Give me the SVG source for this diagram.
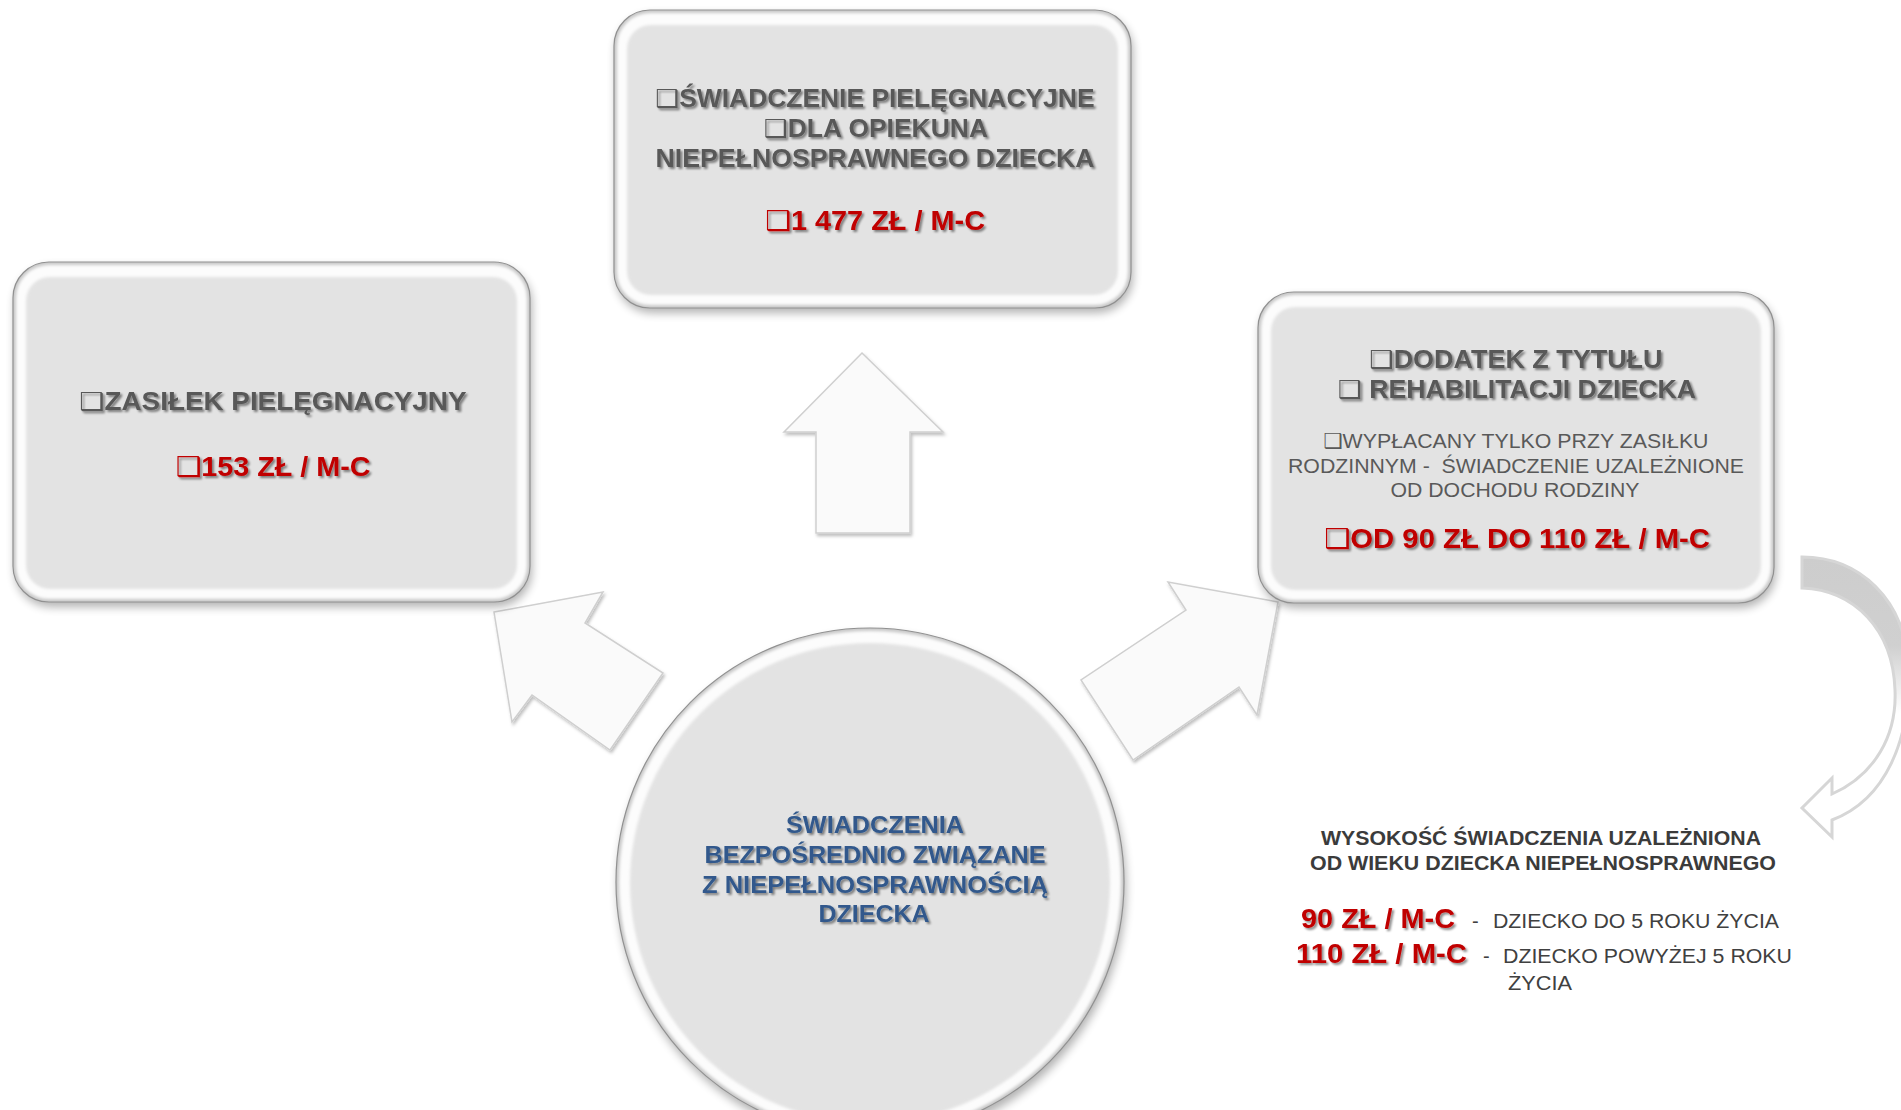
<svg xmlns="http://www.w3.org/2000/svg" width="1901" height="1110" viewBox="0 0 1901 1110">
<style>
  .t { font-family: "Liberation Sans", Arial, "DejaVu Sans", sans-serif; }
  .hb { font-weight: bold; font-size: 25px; fill: #595959; filter: url(#tsh); }
  .red { font-weight: bold; font-size: 27px; fill: #c00000; filter: url(#tsh); }
  .blue { font-weight: bold; font-size: 24px; fill: #31598c; filter: url(#tsh); }
  .reg { font-size: 21px; fill: #595959; }
  .note { font-weight: bold; font-size: 20px; fill: #3b3b3b; }
  .noter { font-size: 20px; fill: #404040; }
  .mid { text-anchor: middle; }
  .rim { fill: #c9c9c9; stroke: #8f8f8f; stroke-width: 1.2; }
  .ring { fill: #fcfcfc; filter: url(#soft); }
  .inner { fill: #e3e3e3; filter: url(#soft); }
  .arr { fill: #fafafa; stroke: #cfcfcf; stroke-width: 1.5; filter: url(#ash); }
</style>
<defs>
  <filter id="sh" x="-10%" y="-10%" width="120%" height="130%">
    <feGaussianBlur stdDeviation="5"/>
  </filter>
  <filter id="soft" x="-5%" y="-5%" width="110%" height="110%">
    <feGaussianBlur stdDeviation="1.4"/>
  </filter>
  <filter id="tsh" x="-5%" y="-30%" width="110%" height="160%">
    <feDropShadow dx="2" dy="2" stdDeviation="1.2" flood-color="#000" flood-opacity="0.45"/>
  </filter>
  <filter id="ash" x="-10%" y="-10%" width="125%" height="125%">
    <feDropShadow dx="1.5" dy="2.5" stdDeviation="1.5" flood-color="#000" flood-opacity="0.25"/>
  </filter>
  <linearGradient id="cg" gradientUnits="userSpaceOnUse" x1="0" y1="557" x2="0" y2="780">
    <stop offset="0" stop-color="#cdcdcd"/>
    <stop offset="0.4" stop-color="#d0d0d0"/>
    <stop offset="0.7" stop-color="#ffffff"/>
    <stop offset="1" stop-color="#ffffff"/>
  </linearGradient>
</defs>
<rect width="1901" height="1110" fill="#ffffff"/>

<g id="connectors">
  <polygon class="arr" points="862,353 943,432 910,432 910,533 816,533 816,432 784,432"/>
  <polygon class="arr" points="494,612 603,592 585,623 663,673 610,750 532,695 512,722"/>
  <polygon class="arr" points="1278,602 1257,715 1239,687 1133,760 1081,680 1186,610 1168,582"/>
  <path d="M1802,557 C1860,557 1905,600 1908,665 C1912,740 1885,800 1832,820 L1832,837 L1802,808 L1832,778 L1832,794 C1875,775 1897,735 1895,690 C1893,630 1855,590 1802,588 Z" fill="url(#cg)" stroke="#d6d6d6" stroke-width="3" stroke-linejoin="miter"/>
</g>

<g id="node-left">
  <rect x="15" y="267" width="517" height="340" rx="36" fill="#000" opacity="0.3" filter="url(#sh)"/>
  <rect class="rim" x="13" y="262" width="517" height="340" rx="36"/>
  <rect class="ring" x="16" y="265" width="511" height="334" rx="33"/>
  <rect class="inner" x="26" y="277" width="491" height="312" rx="24"/>
  <text class="t hb mid" x="273" y="410" textLength="387" lengthAdjust="spacingAndGlyphs">❑ZASIŁEK PIELĘGNACYJNY</text>
  <text class="t red mid" x="273" y="476" textLength="195" lengthAdjust="spacingAndGlyphs">❑153 ZŁ / M-C</text>
</g>

<g id="node-top">
  <rect x="616" y="15" width="517" height="298" rx="36" fill="#000" opacity="0.3" filter="url(#sh)"/>
  <rect class="rim" x="614" y="10" width="517" height="298" rx="36"/>
  <rect class="ring" x="617" y="13" width="511" height="292" rx="33"/>
  <rect class="inner" x="627" y="25" width="491" height="270" rx="24"/>
  <text class="t hb mid" x="875" y="107" textLength="439" lengthAdjust="spacingAndGlyphs">❑ŚWIADCZENIE PIELĘGNACYJNE</text>
  <text class="t hb mid" x="876" y="137" textLength="224" lengthAdjust="spacingAndGlyphs">❑DLA OPIEKUNA</text>
  <text class="t hb mid" x="875" y="167" textLength="439" lengthAdjust="spacingAndGlyphs">NIEPEŁNOSPRAWNEGO DZIECKA</text>
  <text class="t red mid" x="875" y="230" textLength="220" lengthAdjust="spacingAndGlyphs">❑1 477 ZŁ / M-C</text>
</g>

<g id="node-right">
  <rect x="1260" y="297" width="516" height="311" rx="36" fill="#000" opacity="0.3" filter="url(#sh)"/>
  <rect class="rim" x="1258" y="292" width="516" height="311" rx="36"/>
  <rect class="ring" x="1261" y="295" width="510" height="305" rx="33"/>
  <rect class="inner" x="1271" y="307" width="490" height="283" rx="24"/>
  <text class="t hb mid" x="1516" y="368" textLength="293" lengthAdjust="spacingAndGlyphs">❑DODATEK Z TYTUŁU</text>
  <text class="t hb mid" x="1517" y="398" textLength="358" lengthAdjust="spacingAndGlyphs">❑ REHABILITACJI DZIECKA</text>
  <text class="t reg mid" x="1516" y="448" textLength="385" lengthAdjust="spacingAndGlyphs">❑WYPŁACANY TYLKO PRZY ZASIŁKU</text>
  <text class="t reg mid" x="1516" y="473" textLength="456" lengthAdjust="spacingAndGlyphs" xml:space="preserve">RODZINNYM -  ŚWIADCZENIE UZALEŻNIONE</text>
  <text class="t reg mid" x="1515" y="497" textLength="249" lengthAdjust="spacingAndGlyphs">OD DOCHODU RODZINY</text>
  <text class="t red mid" x="1517" y="548" textLength="386" lengthAdjust="spacingAndGlyphs">❑OD 90 ZŁ DO 110 ZŁ / M-C</text>
</g>

<g id="node-center">
  <circle cx="872" cy="888" r="254" fill="#000" opacity="0.3" filter="url(#sh)"/>
  <circle cx="870" cy="882" r="254" class="rim"/>
  <circle cx="870" cy="882" r="251" class="ring"/>
  <circle cx="870" cy="883" r="240" class="inner"/>
  <text class="t blue mid" x="875" y="833" textLength="178" lengthAdjust="spacingAndGlyphs">ŚWIADCZENIA</text>
  <text class="t blue mid" x="875" y="863" textLength="341" lengthAdjust="spacingAndGlyphs">BEZPOŚREDNIO ZWIĄZANE</text>
  <text class="t blue mid" x="875" y="893" textLength="346" lengthAdjust="spacingAndGlyphs">Z NIEPEŁNOSPRAWNOŚCIĄ</text>
  <text class="t blue mid" x="874" y="922" textLength="111" lengthAdjust="spacingAndGlyphs">DZIECKA</text>
</g>

<g id="node-note">
  <text class="t note mid" x="1541" y="845" textLength="440" lengthAdjust="spacingAndGlyphs">WYSOKOŚĆ ŚWIADCZENIA UZALEŻNIONA</text>
  <text class="t note mid" x="1543" y="870" textLength="466" lengthAdjust="spacingAndGlyphs">OD WIEKU DZIECKA NIEPEŁNOSPRAWNEGO</text>
  <text class="t red" x="1301" y="928" style="font-size:28px" textLength="154" lengthAdjust="spacingAndGlyphs">90 ZŁ / M-C</text>
  <text class="t noter" x="1472" y="928">-</text>
  <text class="t noter" x="1493" y="928" textLength="286" lengthAdjust="spacingAndGlyphs">DZIECKO DO 5 ROKU ŻYCIA</text>
  <text class="t red" x="1296" y="963" style="font-size:28px" textLength="171" lengthAdjust="spacingAndGlyphs">110 ZŁ / M-C</text>
  <text class="t noter" x="1483" y="963">-</text>
  <text class="t noter" x="1503" y="963" textLength="289" lengthAdjust="spacingAndGlyphs">DZIECKO POWYŻEJ 5 ROKU</text>
  <text class="t noter" x="1508" y="990" textLength="64" lengthAdjust="spacingAndGlyphs">ŻYCIA</text>
</g>
</svg>
